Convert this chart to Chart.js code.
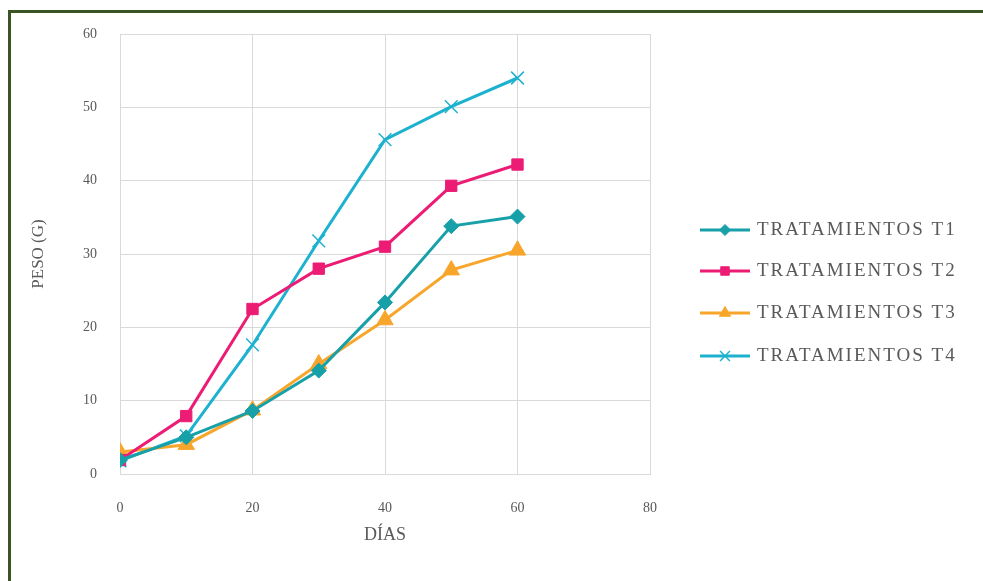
<!DOCTYPE html>
<html>
<head>
<meta charset="utf-8">
<script src="https://cdn.jsdelivr.net/npm/chart.js@4/dist/chart.umd.min.js"></script>
<style>
html,body{margin:0;padding:0;background:#fff;}
#wrap{width:983px;height:581px;position:relative;}
</style>
</head>
<body>
<div id="wrap"><canvas id="c" width="983" height="581"></canvas></div>
<script>
// ---- data ----
const days = [0, 10, 20, 30, 40, 50, 60];
const seriesNames = ["TRATAMIENTOS T1", "TRATAMIENTOS T2", "TRATAMIENTOS T3", "TRATAMIENTOS T4"];
const t1 = [1.9, 5.0, 8.6, 14.1, 23.4, 33.8, 35.1];
const t2 = [1.9, 7.9, 22.5, 28.0, 31.0, 39.3, 42.2];
const t3 = [3.0, 4.0, 8.7, 15.0, 21.0, 27.8, 30.5];
const t4 = [1.8, 5.2, 17.6, 31.8, 45.6, 50.1, 54.0];
const xTicks = [0, 20, 40, 60, 80];
const yTicks = [0, 10, 20, 30, 40, 50, 60];

const colors = ["#17a0a8", "#ec1c74", "#f8a62b", "#1cb2cf"];
const styles = ["rectRot", "rect", "triangle", "crossRot"];
const radii = [7.5, 8, 9.5, 9];
const legendRadii = [5.5, 6, 6.5, 7];
const values = [t1, t2, t3, t4];

const FONT = "'Liberation Serif', 'DejaVu Serif', serif";
const TXT = "#595959";

const datasets = values.map((v, i) => ({
  label: seriesNames[i],
  data: days.map((d, j) => ({x: d, y: v[j]})),
  borderColor: colors[i],
  backgroundColor: colors[i],
  pointBackgroundColor: colors[i],
  pointBorderColor: colors[i],
  pointStyle: styles[i],
  pointRadius: radii[i],
  pointBorderWidth: styles[i] === "crossRot" ? 1.5 : 1,
  borderWidth: 3,
  tension: 0,
  fill: false
}));

const frame = {
  id: 'frame',
  beforeDraw(chart) {
    const ctx = chart.ctx;
    ctx.save();
    ctx.fillStyle = '#fff';
    ctx.fillRect(0, 0, chart.width, chart.height);
    ctx.restore();
  },
  afterDraw(chart) {
    const ctx = chart.ctx;
    ctx.save();
    ctx.strokeStyle = '#3b5424';
    ctx.lineWidth = 3;
    ctx.beginPath();
    ctx.moveTo(9.5, chart.height + 5);
    ctx.lineTo(9.5, 11.5);
    ctx.lineTo(chart.width + 5, 11.5);
    ctx.stroke();
    // legend
    const rows = [230, 271, 313, 356];
    chart.data.datasets.forEach((ds, i) => {
      const y = rows[i];
      ctx.strokeStyle = ds.borderColor;
      ctx.lineWidth = 3;
      ctx.beginPath();
      ctx.moveTo(700, y);
      ctx.lineTo(750, y);
      ctx.stroke();
      ctx.fillStyle = ds.backgroundColor;
      ctx.strokeStyle = ds.borderColor;
      ctx.lineWidth = ds.pointBorderWidth;
      Chart.helpers.drawPoint(ctx, {pointStyle: ds.pointStyle, radius: legendRadii[i], borderWidth: ds.pointBorderWidth, rotation: 0}, 725, y);
      ctx.fillStyle = TXT;
      ctx.font = "19px " + FONT;
      if ('letterSpacing' in ctx) ctx.letterSpacing = '2px';
      ctx.textBaseline = 'middle';
      ctx.textAlign = 'left';
      ctx.fillText(ds.label, 757, y);
      if ('letterSpacing' in ctx) ctx.letterSpacing = '0px';
    });
    ctx.restore();
  }
};

new Chart(document.getElementById('c'), {
  type: 'line',
  data: {datasets},
  plugins: [frame],
  options: {
    responsive: false,
    animation: false,
    events: [],
    layout: {padding: {left: 20, right: 333, top: 34, bottom: 25}},
    plugins: {legend: {display: false}, tooltip: {enabled: false}},
    scales: {
      x: {
        type: 'linear', min: 0, max: 80,
        afterBuildTicks: s => { s.ticks = xTicks.map(v => ({value: v})); },
        afterFit: s => { s.height = 82; },
        grid: {color: '#d9d9d9', lineWidth: 1, drawTicks: false},
        border: {color: '#d9d9d9'},
        ticks: {padding: 26, color: TXT, font: {family: FONT, size: 14}, maxRotation: 0},
        title: {display: true, text: 'DÍAS', color: TXT, font: {family: FONT, size: 18}, padding: {top: 0, bottom: 10}}
      },
      y: {
        type: 'linear', min: 0, max: 60,
        afterBuildTicks: s => { s.ticks = yTicks.map(v => ({value: v})); },
        afterFit: s => { s.width = 100; },
        grid: {color: '#d9d9d9', lineWidth: 1, drawTicks: false},
        border: {color: '#d9d9d9'},
        ticks: {padding: 23, color: TXT, font: {family: FONT, size: 14}},
        title: {display: true, text: 'PESO (G)', color: TXT, font: {family: FONT, size: 17}, padding: {top: 8, bottom: 0}}
      }
    }
  }
});
</script>
</body>
</html>
